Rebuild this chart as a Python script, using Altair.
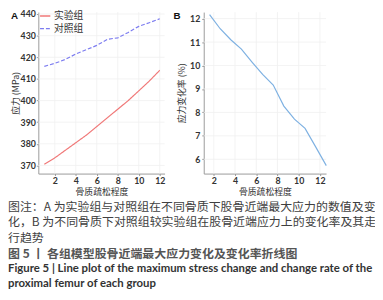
import altair as alt
import pandas as pd

# ---------------- data ----------------
levels = [1, 2, 3, 4, 5, 6, 7, 8, 9, 10, 11, 12]
exp_stress = [370.5, 373.5, 377.0, 380.5, 384.0, 388.0, 392.0, 396.0, 400.0, 404.5, 409.0, 414.0]
ctl_stress = [415.8, 417.2, 419.0, 421.5, 423.5, 425.5, 428.3, 429.0, 431.5, 434.3, 436.0, 437.8]
rate_x = [1.6, 2.6, 3.6, 4.6, 5.6, 6.6, 7.6, 8.6, 9.6, 10.6, 11.6, 12.6]
rate = [12.17, 11.57, 11.1, 10.7, 10.15, 9.62, 9.17, 8.27, 7.71, 7.32, 6.53, 5.73]
group_names = ["实验组", "对照组"]
x_ticks = [2, 4, 6, 8, 10, 12]
stress_ticks = [370, 380, 390, 400, 410, 420, 430, 440]
rate_ticks = [6, 7, 8, 9, 10, 11, 12]
x_title = "骨质疏松程度"
stress_title = "应力 (MPa)"
rate_title = "应力变化率 (%)"
panel_labels = ["A", "B"]
captions = [
    "图注：A 为实验组与对照组在不同骨质下股骨近端最大应力的数值及变",
    "化，B 为不同骨质下对照组较实验组在股骨近端应力上的变化率及其走",
    "行趋势",
    "图 5  丨 各组模型股骨近端最大应力变化及变化率折线图",
    "Figure 5  |  Line plot of the maximum stress change and change rate of the",
    "proximal femur of each group",
]

# ---------------- layout / style ----------------
W, H = 375, 292
Y_RANGE = [166, 1]
A_XR, B_XR = [31, 160], [200, 325]
A_XDOM, A_YDOM = [0.43, 12.46], [366.24, 440.9]
B_XDOM, B_YDOM = [1.05, 12.58], [5.39, 12.28]
RED, BLUE, LBLUE = "#f07878", "#7c7cf0", "#7eb1e2"
GRID = "#f0f0f0"
CJK = "Noto Sans CJK SC"

def axis(values, orient, offset, title, lpad, tpad):
    return alt.Axis(values=values, orient=orient, offset=offset, title=title,
                    format="d", grid=False, tickSize=2, labelPadding=lpad,
                    titlePadding=tpad)

sAx = alt.Scale(domain=A_XDOM, range=A_XR, nice=False, zero=False)
sAy = alt.Scale(domain=A_YDOM, range=Y_RANGE, nice=False, zero=False)
sBx = alt.Scale(domain=B_XDOM, range=B_XR, nice=False, zero=False)
sBy = alt.Scale(domain=B_YDOM, range=Y_RANGE, nice=False, zero=False)
axAx = axis(x_ticks, "bottom", -(H - 166), x_title, 1, 2.5)
axAy = axis(stress_ticks, "left", -A_XR[0], stress_title, 1, 0)
axBx = axis(x_ticks, "bottom", -(H - 166), x_title, 1, 2.5)
axBy = axis(rate_ticks, "left", -B_XR[0], rate_title, 2, 3)

def grid_layers(xticks, yticks, xdom, ydom, sx, sy, ax, ay):
    vg = pd.DataFrame({"gx": xticks, "y1": [ydom[0]] * len(xticks), "y2": [ydom[1]] * len(xticks)})
    hg = pd.DataFrame({"gy": yticks, "x1": [xdom[0]] * len(yticks), "x2": [xdom[1]] * len(yticks)})
    v = alt.Chart(vg).mark_rule(color=GRID, strokeWidth=0.8).encode(
        x=alt.X("gx:Q", scale=sx, axis=ax), y=alt.Y("y1:Q", scale=sy, axis=ay), y2="y2:Q")
    h = alt.Chart(hg).mark_rule(color=GRID, strokeWidth=0.8).encode(
        y=alt.Y("gy:Q", scale=sy, axis=ay), x=alt.X("x1:Q", scale=sx, axis=ax), x2="x2:Q")
    return [v, h]

# Panel A
dfA = pd.DataFrame({
    "level": levels + levels,
    "stress": exp_stress + ctl_stress,
    "group": [group_names[0]] * len(levels) + [group_names[1]] * len(levels),
})
leg = dict(orient="none", legendX=32, legendY=-1, title=None, symbolType="stroke",
           symbolSize=110, symbolStrokeWidth=1.3, labelFont=CJK, labelFontSize=10,
           labelColor="#333", rowPadding=2, padding=0, labelOffset=3)
linesA = alt.Chart(dfA).mark_line(strokeWidth=1.2).encode(
    x=alt.X("level:Q", scale=sAx, axis=axAx),
    y=alt.Y("stress:Q", scale=sAy, axis=axAy),
    color=alt.Color("group:N", sort=group_names,
                    scale=alt.Scale(domain=group_names, range=[RED, BLUE]),
                    legend=alt.Legend(**leg)),
    strokeDash=alt.StrokeDash("group:N", sort=group_names,
                              scale=alt.Scale(domain=group_names, range=[[1, 0], [4, 2]]),
                              legend=alt.Legend(**leg)),
)
panelA = alt.layer(*grid_layers(x_ticks, stress_ticks, A_XDOM, A_YDOM, sAx, sAy, axAx, axAy), linesA)

# Panel B
dfB = pd.DataFrame({"x": rate_x, "rate": rate})
lineB = alt.Chart(dfB).mark_line(strokeWidth=1.2, color=LBLUE).encode(
    x=alt.X("x:Q", scale=sBx, axis=axBx),
    y=alt.Y("rate:Q", scale=sBy, axis=axBy),
)
panelB = alt.layer(*grid_layers(x_ticks, rate_ticks, B_XDOM, B_YDOM, sBx, sBy, axBx, axBy), lineB)

# Texts
def text_layer(t, x, y, **kw):
    return alt.Chart(pd.DataFrame({"t": [t]})).mark_text(align="left", baseline="middle", **kw).encode(
        text="t:N", x=alt.value(x), y=alt.value(y))

texts = [
    text_layer(panel_labels[0], 3, 5, font="Liberation Sans", fontSize=10, fontWeight="bold", color="#111"),
    text_layer(panel_labels[1], 169, 5, font="Liberation Sans", fontSize=10, fontWeight="bold", color="#111"),
]
cap_y = [199.8, 215.8, 231.8, 248, 263.7, 279.3]
for i, c in enumerate(captions):
    if i < 3:
        texts.append(text_layer(c, 0, cap_y[i], font=CJK, fontSize=12.2, color="#404040"))
    elif i == 3:
        texts.append(text_layer(c, 0, cap_y[i], font=CJK, fontSize=12.2, fontWeight="bold", color="#555"))
    else:
        texts.append(text_layer(c, 0, cap_y[i], font="Lato", fontSize=11.6, fontWeight="bold", color="#333"))

chart = alt.layer(panelA, panelB, *texts).resolve_scale(
    x="independent", y="independent", color="independent", strokeDash="independent"
).resolve_axis(x="independent", y="independent").properties(
    width=W, height=H, padding=0, autosize=alt.AutoSizeParams(type="none")
).configure_view(stroke=None).configure_axis(
    domainColor="#9a9a9a", tickColor="#9a9a9a", labelColor="#333", labelFont="Lato",
    labelFontWeight="bold", labelFontSize=9, titleFont=CJK, titleFontSize=9,
    titleFontWeight="normal", titleColor="#333",
)

chart.save("out.html", embed_options={"renderer": "svg", "actions": False})
